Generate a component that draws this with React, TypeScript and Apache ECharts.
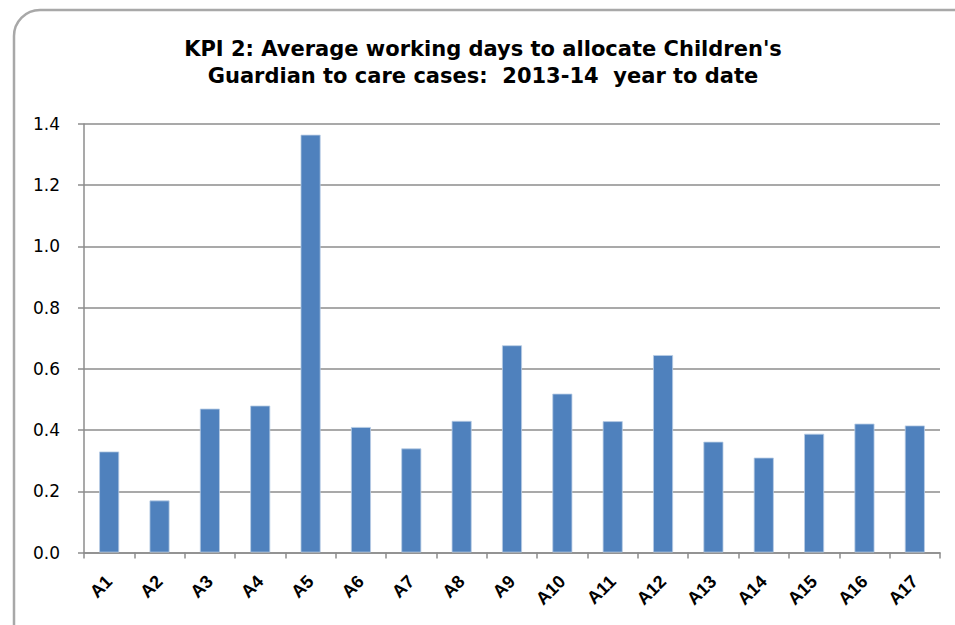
import React, { useEffect, useRef } from "react";
import * as echarts from "echarts";

const categories = ["A1","A2","A3","A4","A5","A6","A7","A8","A9","A10","A11","A12","A13","A14","A15","A16","A17"];
const values = [0.33,0.17,0.47,0.48,1.365,0.41,0.34,0.43,0.677,0.519,0.429,0.645,0.362,0.31,0.388,0.421,0.415];
const yTicks = { min: 0, max: 1.4, interval: 0.2 };
const titleText = "KPI 2: Average working days to allocate Children's\nGuardian to care cases:  2013-14  year to date";

export default function App() {
  const ref = useRef<HTMLDivElement>(null);
  useEffect(() => {
    if (!ref.current) return;
    const chart = echarts.init(ref.current, null, { renderer: "svg" });
    chart.setOption({
      animation: false,
      backgroundColor: "#ffffff",
      title: {
        text: titleText,
        left: 478,
        textAlign: "center",
        top: 30,
        textStyle: {
          fontFamily: "DejaVu Sans, Verdana, sans-serif",
          fontWeight: "bold",
          fontSize: 21,
          lineHeight: 27,
          color: "#000",
        },
      },
      graphic: [
        {
          type: "rect",
          shape: { x: 14, y: 10, width: 970, height: 640, r: 26 },
          style: { fill: "none", stroke: "#a8a8a8", lineWidth: 2.5 },
          silent: true,
          z: -1,
        },
      ],
      grid: { left: 84, right: 15, top: 124, bottom: 72.5, containLabel: false },
      xAxis: {
        type: "category",
        data: categories,
        axisLine: { lineStyle: { color: "#8c8c8c", width: 1.5 } },
        axisTick: { show: true, alignWithLabel: false, length: 6, lineStyle: { color: "#8c8c8c", width: 1.5 } },
        axisLabel: {
          rotate: 45,
          interval: 0,
          margin: 26,
          fontFamily: "Liberation Sans, Arial, sans-serif",
          fontWeight: "bold",
          fontSize: 18,
          color: "#000",
        },
      },
      yAxis: {
        type: "value",
        min: yTicks.min,
        max: yTicks.max,
        interval: yTicks.interval,
        axisLine: { show: true, lineStyle: { color: "#8c8c8c", width: 1.5 } },
        axisTick: { show: true, length: 6, lineStyle: { color: "#8c8c8c", width: 1.5 } },
        splitLine: { show: true, lineStyle: { color: "#8c8c8c", width: 1.5 } },
        axisLabel: {
          margin: 24,
          formatter: (v: number) => v.toFixed(1),
          fontFamily: "DejaVu Sans, sans-serif",
          fontSize: 17,
          color: "#000",
        },
      },
      series: [
        {
          type: "bar",
          data: values,
          barWidth: 20,
          itemStyle: { color: "#4f81bd", borderColor: "#b9cde5", borderWidth: 0.8 },
        },
      ],
    });
    return () => chart.dispose();
  }, []);
  return (
    <div
      ref={ref}
      style={{ position: "fixed", left: 0, top: 0, width: 955, height: 625, background: "#fff" }}
    />
  );
}
